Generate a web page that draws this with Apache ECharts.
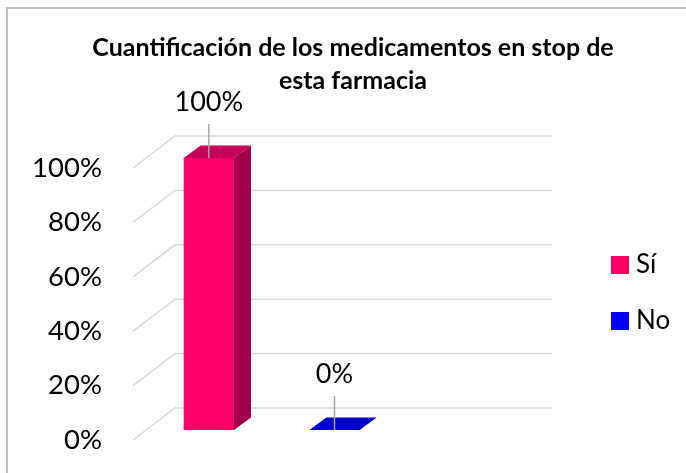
<!DOCTYPE html>
<html>
<head>
<meta charset="utf-8">
<script src="https://cdn.jsdelivr.net/npm/echarts@6/dist/echarts.min.js"></script>
<style>
html,body{margin:0;padding:0;background:#fff;}
#main{width:686px;height:473px;}
</style>
</head>
<body>
<div id="main"></div>
<script>
// ---- data ----
var categories = ['Sí', 'No', ''];
var seriesNames = ['Sí', 'No'];
var siValues = [[0, 1.0]];
var noValues = [[1, 0.0]];
var tickValues = [0, 0.2, 0.4, 0.6, 0.8, 1.0];
var titleText = 'Cuantificación de los medicamentos en stop de\nesta farmacia';

var chart = echarts.init(document.getElementById('main'), null, {renderer: 'canvas'});

var DEPTH_X = 42, DEPTH_Y = -32;       // floor/back-wall offset
var BAR_DX = 13, BAR_DY = -10;         // bar front offset into depth
var SIDE_DX = 17, SIDE_DY = -12.5;     // bar depth

function pct(v){ return Math.round(v * 100) + '%'; }

function barRenderer(front, side, top) {
  return function (params, api) {
    var idx = api.value(0), v = api.value(1);
    var pv = api.coord([idx, v]);
    var pb = api.coord([idx, 0]);
    var w = api.size([1, 0])[0] * 0.4;
    var cx = pv[0] + BAR_DX;
    var yT = pv[1] + BAR_DY, yB = pb[1] + BAR_DY;
    var xL = cx - w / 2, xR = cx + w / 2;
    var children = [];
    if (yB - yT > 0.5) {
      children.push({type: 'rect', shape: {x: xL, y: yT, width: w, height: yB - yT}, style: {fill: front}});
      children.push({type: 'polygon', shape: {points: [[xR, yT], [xR + SIDE_DX, yT + SIDE_DY], [xR + SIDE_DX, yB + SIDE_DY], [xR, yB]]}, style: {fill: side}});
    }
    children.push({type: 'polygon', shape: {points: [[xL, yT], [xL + SIDE_DX, yT + SIDE_DY], [xR + SIDE_DX, yT + SIDE_DY], [xR, yT]]}, style: {fill: top}});
    children.push({type: 'line', shape: {x1: cx, y1: yT - 34, x2: cx, y2: yT}, style: {stroke: '#a6a6a6', lineWidth: 1.5}});
    children.push({type: 'text', style: {text: pct(v), x: cx, y: yT - 56, align: 'center', verticalAlign: 'middle', font: '27px Lato', fill: '#000'}});
    return {type: 'group', children: children};
  };
}

var option = {
  backgroundColor: '#fff',
  animation: false,
  title: {
    text: titleText,
    left: 348,
    top: 26,
    textAlign: 'center',
    textStyle: {fontFamily: 'Lato', fontWeight: 'bold', fontSize: 25, lineHeight: 33, color: '#000'}
  },
  legend: {
    orient: 'vertical',
    left: 606,
    top: 247,
    itemWidth: 18,
    itemHeight: 18,
    itemGap: 30,
    icon: 'rect',
    data: seriesNames,
    textStyle: {fontFamily: 'Lato', fontSize: 26, lineHeight: 25, color: '#000', padding: [0, 0, 0, 2]}
  },
  graphic: [{
    type: 'rect', shape: {x: 7, y: 8, width: 720, height: 520},
    style: {fill: 'none', stroke: '#bfbfbf', lineWidth: 2}, silent: true
  }],
  grid: {left: 133, top: 168, width: 377, height: 272, containLabel: false},
  xAxis: {
    type: 'category', data: categories,
    axisLine: {show: false}, axisTick: {show: false}, axisLabel: {show: false}, splitLine: {show: false}
  },
  yAxis: {
    type: 'value', min: 0, max: 1, interval: 0.2,
    axisLine: {show: false}, axisTick: {show: false}, splitLine: {show: false},
    axisLabel: {formatter: pct, margin: 31, fontFamily: 'Lato', fontSize: 27.5, color: '#000'}
  },
  series: [
    {
      type: 'custom', name: '_grid', silent: true, z: 1,
      data: tickValues.map(function (t) { return [0, t]; }),
      renderItem: function (params, api) {
        var cs = params.coordSys;
        var y = api.coord([0, api.value(1)])[1];
        var x0 = cs.x;
        return {type: 'polyline', shape: {points: [[x0, y], [x0 + DEPTH_X, y + DEPTH_Y], [x0 + cs.width + DEPTH_X, y + DEPTH_Y]]},
          style: {stroke: '#d9d9d9', lineWidth: 1.5, fill: 'none'}};
      },
      tooltip: {show: false}
    },
    {
      type: 'custom', name: 'Sí', z: 3,
      itemStyle: {color: '#FF0066'},
      data: siValues,
      renderItem: barRenderer('#FF0066', '#A3004A', '#C7005A')
    },
    {
      type: 'custom', name: 'No', z: 3,
      itemStyle: {color: '#0000FF'},
      data: noValues,
      renderItem: barRenderer('#0000FF', '#00009E', '#0000C8')
    }
  ]
};
chart.setOption(option);
</script>
</body>
</html>
